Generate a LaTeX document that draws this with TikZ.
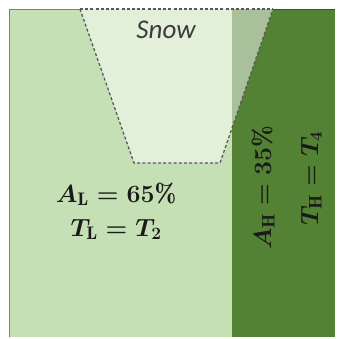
\documentclass[tikz,border=0pt]{standalone}
\usepackage{fontspec}
\newfontfamily\snowfont{Carlito}
\definecolor{lightg}{HTML}{C5E0B4}
\definecolor{darkg}{HTML}{548235}
\definecolor{edgegray}{HTML}{7F7F7F}
\definecolor{edgedark}{HTML}{385723}
\definecolor{dashgray}{HTML}{595959}
\definecolor{txt}{HTML}{1A1A1A}
\begin{document}
\begin{tikzpicture}[x=1pt,y=-1pt,
  snowedge/.style={draw=dashgray, line width=1.3pt, dash pattern=on 3pt off 2.2pt},
  mathlabel/.style={text=txt, font=\fontsize{26}{30}\selectfont\boldmath, inner sep=0pt, anchor=base},
  snowlabel/.style={text=txt!85, font=\snowfont\itshape\fontsize{27}{30}\selectfont, inner sep=0pt, anchor=base}]
\useasboundingbox (0,0) rectangle (340,338);
\fill[lightg] (9,9) rectangle (232,337);
\fill[darkg] (232,9) rectangle (335,337);
\fill[white, opacity=0.5] (80,9) -- (273,9) -- (220,163) -- (134,163) -- cycle;
\draw[edgegray, line width=1pt] (9,337) -- (9,9) -- (80,9);
\draw[edgedark, line width=1pt] (273,9) -- (335,9);
\draw[snowedge] (80,9) -- (273,9);
\draw[snowedge] (80,9) -- (134,163) -- (220,163) -- (273,9);
\node[snowlabel] (snow) at (166,38) {Snow};
\node[mathlabel] (al) at (116,202) {$A_{\mathrm{L}} = 65\%$};
\node[mathlabel] (tl) at (116,236) {$T_{\mathrm{L}} = T_2$};
\node[mathlabel, rotate=90] (ah) at (271,188) {$A_{\mathrm{H}} = 35\%$};
\node[mathlabel, rotate=90] (th) at (318,178) {$T_{\mathrm{H}} = T_4$};
\end{tikzpicture}
\end{document}
